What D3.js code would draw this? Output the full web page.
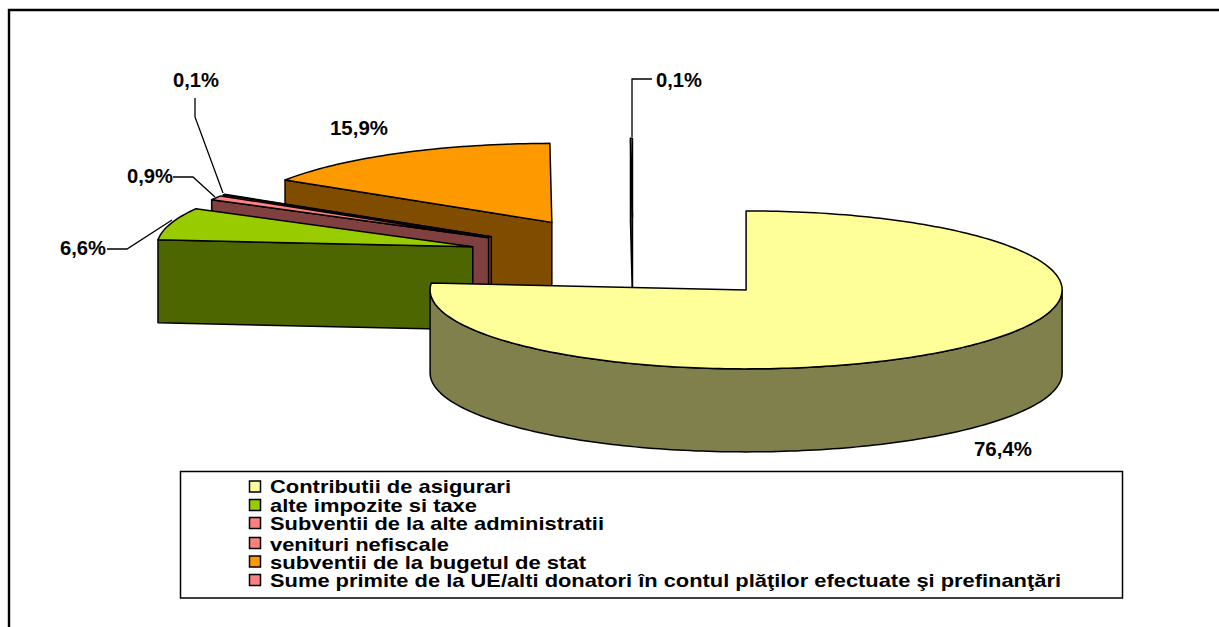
<!DOCTYPE html>
<html><head><meta charset="utf-8">
<script src="https://cdnjs.cloudflare.com/ajax/libs/d3/7.8.5/d3.min.js"></script>
<style>html,body{margin:0;padding:0;background:#fff}svg{display:block}text{font-family:"Liberation Sans",Arial,sans-serif;font-weight:bold;fill:#000}</style>
</head><body>
<svg id="c" width="1219" height="627"></svg>
<script>
// ---- data ----
const categories = ["Contributii de asigurari","alte impozite si taxe","Subventii de la alte administratii","venituri nefiscale","subventii de la bugetul de stat","Sume primite de la UE/alti donatori în contul plăţilor efectuate şi prefinanţări"];
const values = [76.4, 6.6, 0.9, 0.1, 15.9, 0.1];
const topColors = ["#FFFF99","#99CC00","#FF8080","#FF8080","#FF9900","#FF8080"];

// ---- layout ----
const cx = 633, cy = 259, Rx = 316, Ry = 79, depth = 83, explode = 0.53;
const legendWidths = [241,207,334,179,316,791];
const legendBaselines = [493,511.5,530,550.5,568.5,586.5];
const swatchCentres = [486.5,505,523,543,561.5,580];
const labelSpots = [
  {x:974,y:456,w:58},
  {x:60,y:255,w:46},
  {x:127,y:183,w:46},
  {x:173,y:87,w:46},
  {x:330,y:135,w:58},
  {x:656,y:87,w:46}
];
const leaders = [
  null,
  [[107,249],[127,249],[172,220]],
  [[173,177],[193,177],[215,197]],
  [[195,98],[195,117],[223,193]],
  null,
  [[632,137],[632,79],[652,79]]
];

const svg = d3.select("#c");
// outer frame (only top and left edge fall inside the picture)
svg.append("path").attr("d","M9,627V10H1219").attr("fill","none").attr("stroke","#000").attr("stroke-width",2.4);

const pie = d3.pie().sort(null).value(d=>d);
const arcs = pie(values);
const side = c => { const r=d3.rgb(c); return d3.rgb(r.r*.5,r.g*.5,r.b*.5).formatHex(); };
const pt = (o,a,dz=0) => [o[0]+Rx*Math.sin(a), o[1]-Ry*Math.cos(a)+dz];
const line = d3.line();
const sweep = (a0,a1,o,dz) => { const n=Math.max(2,Math.ceil((a1-a0)/0.02)); return d3.range(n+1).map(i=>pt(o,a0+(a1-a0)*i/n,dz)); };

const drawOrder = d3.range(arcs.length).reverse();
const g = svg.append("g");
drawOrder.forEach(i=>{
  const a = arcs[i], mid=(a.startAngle+a.endAngle)/2;
  const o = [cx+explode*Rx*Math.sin(mid), cy-explode*Ry*Math.cos(mid)];
  const fill = topColors[i], dark = side(fill);
  const add = (pts,f) => g.append("path").attr("d",line(pts)+"Z").attr("fill",f).attr("stroke","#000").attr("stroke-width",1.5).attr("stroke-linejoin","round");
  // wall under the radial start edge, seen when it faces the viewer
  if (a.startAngle > Math.PI) {
    const e = pt(o,a.startAngle);
    add([o,e,[e[0],e[1]+depth],[o[0],o[1]+depth]],dark);
  }
  // rim, front half only
  const f0 = Math.max(a.startAngle,Math.PI/2), f1 = Math.min(a.endAngle,1.5*Math.PI);
  if (f1>f0) add(sweep(f0,f1,o,0).concat(sweep(f0,f1,o,depth).reverse()),dark);
  // top face
  add([o].concat(sweep(a.startAngle,a.endAngle,o,0)),fill);
});

// leader lines
leaders.forEach(l=>{ if(l) svg.append("path").attr("d",line(l)).attr("fill","none").attr("stroke","#000").attr("stroke-width",1.3); });

// value labels
const fmt = v => d3.format(".1f")(v).replace(".",",")+"%";
values.forEach((v,i)=>{
  const s = labelSpots[i];
  svg.append("text").attr("x",s.x).attr("y",s.y).attr("font-size",20).attr("textLength",s.w).attr("lengthAdjust","spacingAndGlyphs").text(fmt(v));
});

// legend
svg.append("rect").attr("x",180.5).attr("y",471.5).attr("width",942).attr("height",126.5).attr("fill","#fff").attr("stroke","#000").attr("stroke-width",1.5);
categories.forEach((name,i)=>{
  svg.append("rect").attr("x",249.5).attr("y",swatchCentres[i]-5.5).attr("width",11).attr("height",11).attr("fill",topColors[i]).attr("stroke","#000").attr("stroke-width",1.5);
  svg.append("text").attr("x",270).attr("y",legendBaselines[i]).attr("font-size",18.5).attr("textLength",legendWidths[i]).attr("lengthAdjust","spacingAndGlyphs").text(name);
});
</script>
</body></html>
